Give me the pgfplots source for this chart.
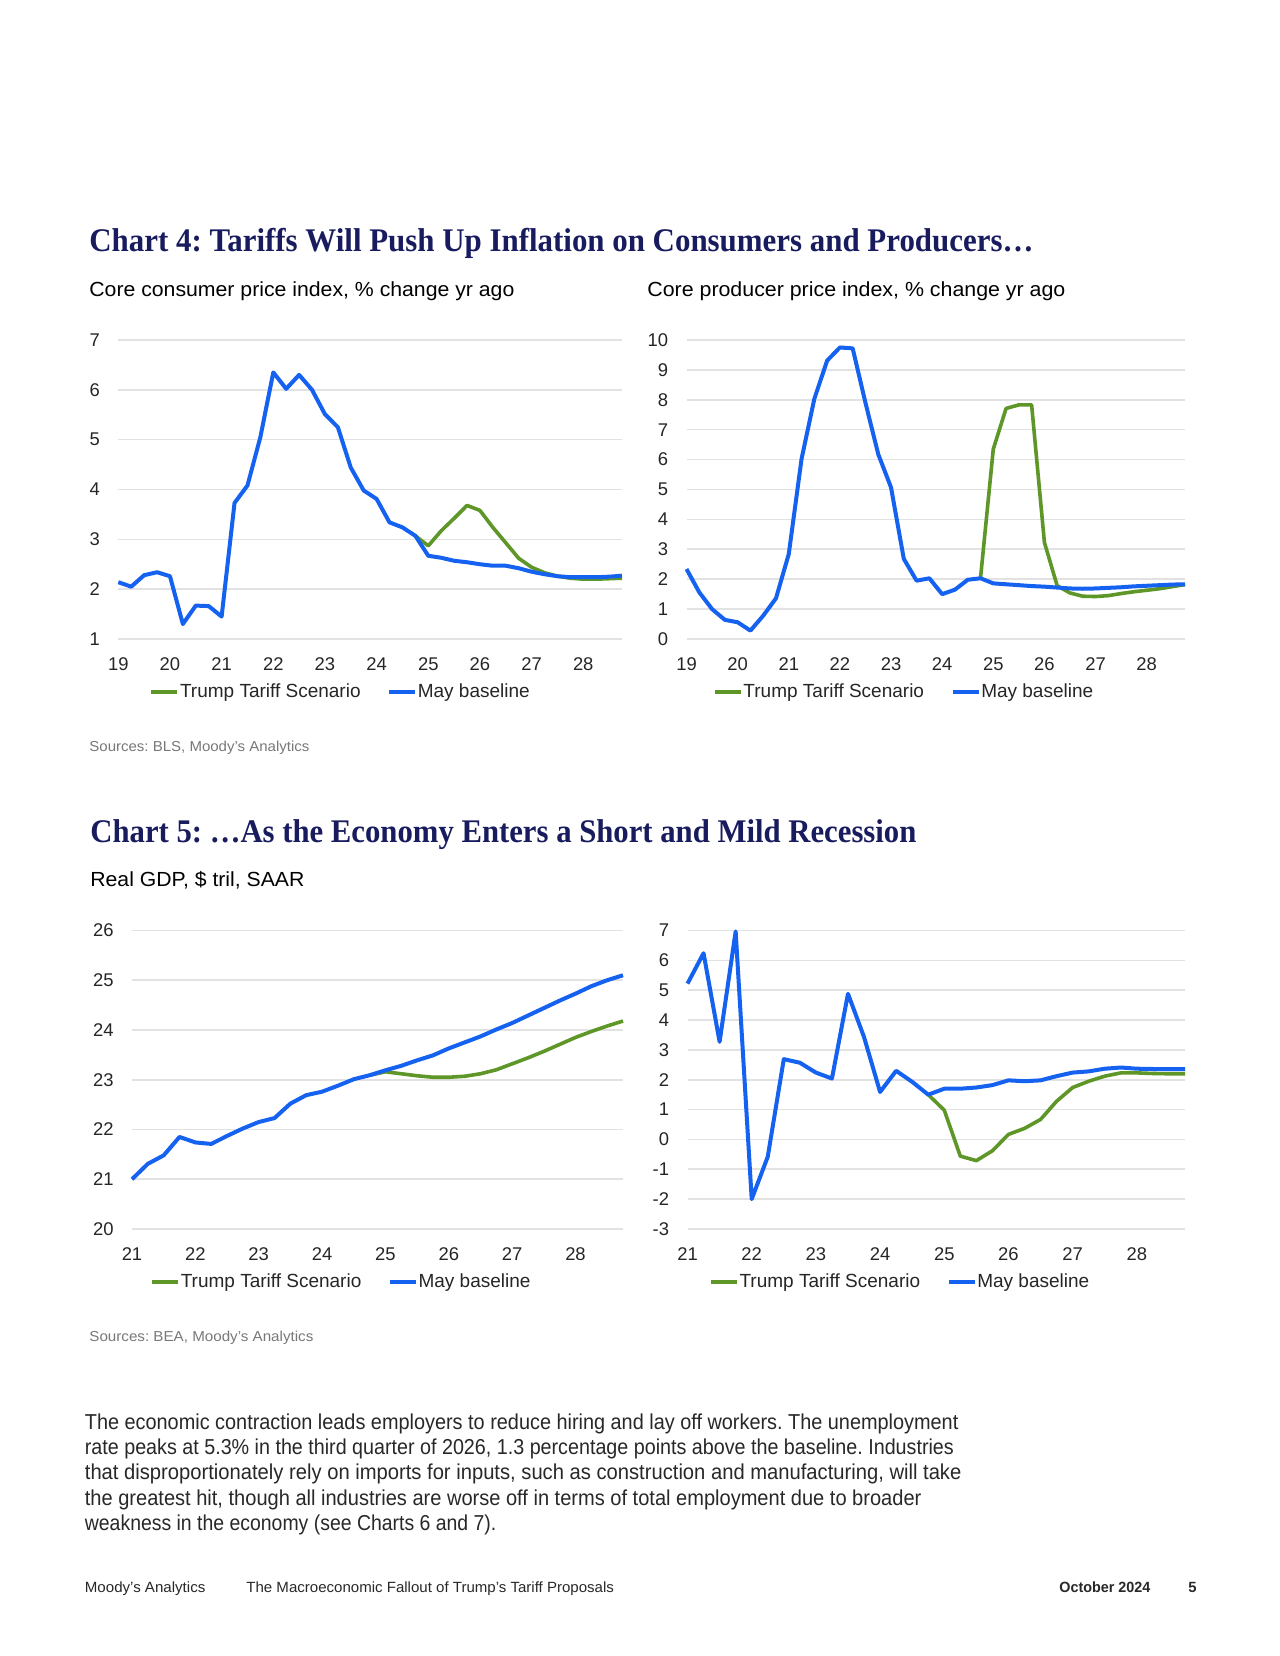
\documentclass[border=0pt]{standalone}
\usepackage{pgfplots}
\pgfplotsset{compat=1.18}
\usepackage{fontspec}
\usepackage{graphicx}
\setmainfont{Liberation Sans}
\newfontfamily\titlefont{Liberation Serif}
\frenchspacing

\definecolor{tblue}{RGB}{22,98,240}
\definecolor{tgreen}{RGB}{94,150,40}
\definecolor{gridc}{RGB}{226,226,226}
\definecolor{navy}{RGB}{24,27,94}
\definecolor{tickc}{RGB}{38,38,38}
\definecolor{srcc}{RGB}{120,120,120}
\definecolor{bodyc}{RGB}{40,40,40}

\newcommand\fitw[2]{\resizebox{#1}{\height}{#2}}

\pgfplotsset{
  mychart/.style={
    scale only axis,
    anchor=south west,
    clip=false,
    axis line style={draw=none},
    major tick length=0pt,
    ymajorgrids,
    grid style={draw=gridc, line width=0.8pt},
    tick label style={font=\fontsize{9.2}{10}\selectfont, text=tickc},
    yticklabel style={anchor=east, inner sep=0pt, xshift=-9pt},
    xticklabel style={anchor=north, inner sep=0pt, yshift=-9.25pt},
    /pgf/number format/assume math mode=true,
    legend columns=2,
    legend style={draw=none, fill=none, anchor=center,
      font=\fontsize{9.5}{11}\selectfont, text=tickc, inner sep=0pt,
      nodes={inner sep=0.3pt},
      /tikz/every even column/.append style={column sep=13pt}},
    legend image code/.code={\draw[##1, line width=2pt, line cap=butt] (0pt,0pt) -- (13pt,0pt);},
  },
  gline/.style={tgreen, line width=1.8pt, line join=round},
  bline/.style={tblue, line width=2pt, line join=round},
}

\begin{document}
\begin{tikzpicture}
\path[fill=white] (0pt,0pt) rectangle (640pt,828pt);

% ---------- texts ----------
\node[anchor=base west, inner sep=0pt, text=navy] at (44.5pt,702pt)
  {\fitw{472pt}{\titlefont\bfseries\fontsize{16.5}{18}\selectfont Chart 4: Tariffs Will Push Up Inflation on Consumers and Producers…}};
\node[anchor=base west, inner sep=0pt, text=black] at (44.5pt,679.5pt)
  {\fitw{212.5pt}{\fontsize{10.2}{11}\selectfont Core consumer price index, \% change yr ago}};
\node[anchor=base west, inner sep=0pt, text=black] at (323.5pt,679.5pt)
  {\fitw{209pt}{\fontsize{10.2}{11}\selectfont Core producer price index, \% change yr ago}};
\node[anchor=base west, inner sep=0pt, text=srcc] at (44.5pt,452pt)
  {\fitw{110pt}{\fontsize{7.2}{8}\selectfont Sources: BLS, Moody’s Analytics}};

\node[anchor=base west, inner sep=0pt, text=navy] at (45pt,406.5pt)
  {\fitw{413pt}{\titlefont\bfseries\fontsize{16.5}{18}\selectfont Chart 5: …As the Economy Enters a Short and Mild Recession}};
\node[anchor=base west, inner sep=0pt, text=black] at (45pt,384.5pt)
  {\fitw{107pt}{\fontsize{10.2}{11}\selectfont Real GDP, \$ tril, SAAR}};
\node[anchor=base west, inner sep=0pt, text=srcc] at (44.5pt,157pt)
  {\fitw{112pt}{\fontsize{7.2}{8}\selectfont Sources: BEA, Moody’s Analytics}};

\begin{scope}[every node/.style={anchor=base west, inner sep=0pt, text=bodyc}]
\node at (42.25pt,113pt) {\fitw{436.75pt}{\fontsize{10.8}{12}\selectfont The economic contraction leads employers to reduce hiring and lay off workers. The unemployment}};
\node at (42.25pt,100.5pt) {\fitw{434.5pt}{\fontsize{10.8}{12}\selectfont rate peaks at 5.3\% in the third quarter of 2026, 1.3 percentage points above the baseline. Industries}};
\node at (42.25pt,88pt) {\fitw{438.25pt}{\fontsize{10.8}{12}\selectfont that disproportionately rely on imports for inputs, such as construction and manufacturing, will take}};
\node at (42.25pt,75pt) {\fitw{418.25pt}{\fontsize{10.8}{12}\selectfont the greatest hit, though all industries are worse off in terms of total employment due to broader}};
\node at (42.25pt,62.5pt) {\fitw{205.75pt}{\fontsize{10.8}{12}\selectfont weakness in the economy (see Charts 6 and 7).}};
\node at (42.25pt,31.5pt) {\fitw{60.25pt}{\fontsize{7.4}{8}\selectfont Moody’s Analytics}};
\node at (123pt,31.5pt) {\fitw{183.8pt}{\fontsize{7.4}{8}\selectfont The Macroeconomic Fallout of Trump’s Tariff Proposals}};
\node at (529.5pt,31.5pt) {\fitw{45.5pt}{\fontsize{7.4}{8}\selectfont\bfseries October 2024}};
\node at (594pt,31.5pt) {\fontsize{7.4}{8}\selectfont\bfseries 5};
\end{scope}

% ---------- Chart 4 left: core CPI ----------
\begin{axis}[mychart, at={(59.15pt,508.5pt)}, width=251.85pt, height=149.5pt,
  xmin=19, xmax=28.75, ymin=1, ymax=7, xtick={19,...,28}, ytick={1,...,7},
  legend style={at={(0.44,-0.177)}}]
\addplot[gline] coordinates {
(24.75,3.07)(25,2.87)(25.25,3.17)(25.5,3.42)(25.75,3.68)(26,3.58)(26.25,3.24)(26.5,2.93)
(26.75,2.62)(27,2.44)(27.25,2.33)(27.5,2.26)(27.75,2.22)(28,2.20)(28.25,2.20)(28.5,2.21)(28.75,2.22)};
\addlegendentry{Trump Tariff Scenario}
\addplot[bline] coordinates {
(19,2.14)(19.25,2.05)(19.5,2.28)(19.75,2.34)(20,2.26)(20.25,1.30)(20.5,1.67)(20.75,1.66)
(21,1.45)(21.25,3.73)(21.5,4.08)(21.75,5.05)(22,6.35)(22.25,6.02)(22.5,6.30)(22.75,6.0)
(23,5.51)(23.25,5.25)(23.5,4.44)(23.75,3.98)(24,3.81)(24.25,3.34)(24.5,3.24)(24.75,3.07)
(25,2.67)(25.25,2.63)(25.5,2.57)(25.75,2.54)(26,2.50)(26.25,2.47)(26.5,2.47)(26.75,2.42)
(27,2.35)(27.25,2.30)(27.5,2.26)(27.75,2.24)(28,2.24)(28.25,2.24)(28.5,2.25)(28.75,2.27)};
\addlegendentry{May baseline}
\end{axis}

% ---------- Chart 4 right: core PPI ----------
\begin{axis}[mychart, at={(343.25pt,508.5pt)}, width=249.25pt, height=149.5pt,
  xmin=19, xmax=28.75, ymin=0, ymax=10, xtick={19,...,28}, ytick={0,...,10},
  legend style={at={(0.435,-0.177)}}]
\addplot[gline] coordinates {
(24.75,2.03)(25,6.35)(25.25,7.71)(25.5,7.83)(25.75,7.83)(26,3.23)(26.25,1.78)(26.5,1.54)
(26.75,1.43)(27,1.42)(27.25,1.45)(27.5,1.52)(27.75,1.58)(28,1.63)(28.25,1.68)(28.5,1.75)(28.75,1.82)};
\addlegendentry{Trump Tariff Scenario}
\addplot[bline] coordinates {
(19,2.34)(19.25,1.56)(19.5,1.00)(19.75,0.64)(20,0.56)(20.25,0.28)(20.5,0.78)(20.75,1.36)
(21,2.84)(21.25,6.02)(21.5,8.03)(21.75,9.31)(22,9.75)(22.25,9.72)(22.5,7.9)(22.75,6.18)
(23,5.07)(23.25,2.68)(23.5,1.95)(23.75,2.03)(24,1.50)(24.25,1.65)(24.5,1.98)(24.75,2.03)
(25,1.86)(25.25,1.83)(25.5,1.80)(25.75,1.77)(26,1.75)(26.25,1.72)(26.5,1.69)(26.75,1.68)
(27,1.69)(27.25,1.71)(27.5,1.73)(27.75,1.76)(28,1.78)(28.25,1.80)(28.5,1.82)(28.75,1.83)};
\addlegendentry{May baseline}
\end{axis}

% ---------- Chart 5 left: real GDP level ----------
\begin{axis}[mychart, at={(66pt,213.5pt)}, width=245.5pt, height=149.25pt,
  xmin=21, xmax=28.75, ymin=20, ymax=26, xtick={21,...,28}, ytick={20,...,26},
  legend style={at={(0.425,-0.178)}}]
\addplot[gline] coordinates {
(24.75,23.09)(25,23.16)(25.25,23.12)(25.5,23.08)(25.75,23.05)(26,23.05)(26.25,23.07)(26.5,23.12)
(26.75,23.20)(27,23.32)(27.25,23.44)(27.5,23.57)(27.75,23.71)(28,23.85)(28.25,23.97)(28.5,24.08)(28.75,24.18)};
\addlegendentry{Trump Tariff Scenario}
\addplot[bline] coordinates {
(21,21.0)(21.25,21.31)(21.5,21.48)(21.75,21.85)(22,21.74)(22.25,21.71)(22.5,21.87)(22.75,22.02)
(23,22.15)(23.25,22.23)(23.5,22.52)(23.75,22.69)(24,22.76)(24.25,22.88)(24.5,23.01)(24.75,23.09)
(25,23.19)(25.25,23.28)(25.5,23.39)(25.75,23.49)(26,23.63)(26.25,23.75)(26.5,23.87)(26.75,24.01)
(27,24.14)(27.25,24.29)(27.5,24.44)(27.75,24.59)(28,24.73)(28.25,24.88)(28.5,25.0)(28.75,25.1)};
\addlegendentry{May baseline}
\end{axis}

% ---------- Chart 5 right: real GDP growth ----------
\begin{axis}[mychart, at={(343.75pt,213.5pt)}, width=248.75pt, height=149.25pt,
  xmin=21, xmax=28.75, ymin=-3, ymax=7, xtick={21,...,28}, ytick={-3,...,7},
  yticklabels={-3,-2,-1,0,1,2,3,4,5,6,7},
  legend style={at={(0.426,-0.178)}}]
\addplot[gline] coordinates {
(24.75,1.50)(25,0.98)(25.25,-0.56)(25.5,-0.71)(25.75,-0.38)(26,0.17)(26.25,0.37)(26.5,0.67)
(26.75,1.28)(27,1.74)(27.25,1.95)(27.5,2.12)(27.75,2.23)(28,2.23)(28.25,2.21)(28.5,2.20)(28.75,2.20)};
\addlegendentry{Trump Tariff Scenario}
\addplot[bline] coordinates {
(21,5.22)(21.25,6.24)(21.5,3.27)(21.75,6.97)(22,-2.0)(22.25,-0.58)(22.5,2.69)(22.75,2.57)
(23,2.24)(23.25,2.04)(23.5,4.88)(23.75,3.43)(24,1.59)(24.25,2.30)(24.5,1.93)(24.75,1.50)
(25,1.70)(25.25,1.70)(25.5,1.74)(25.75,1.82)(26,1.98)(26.25,1.95)(26.5,1.98)(26.75,2.12)
(27,2.24)(27.25,2.28)(27.5,2.37)(27.75,2.41)(28,2.37)(28.25,2.36)(28.5,2.36)(28.75,2.36)};
\addlegendentry{May baseline}
\end{axis}
\end{tikzpicture}
\end{document}
